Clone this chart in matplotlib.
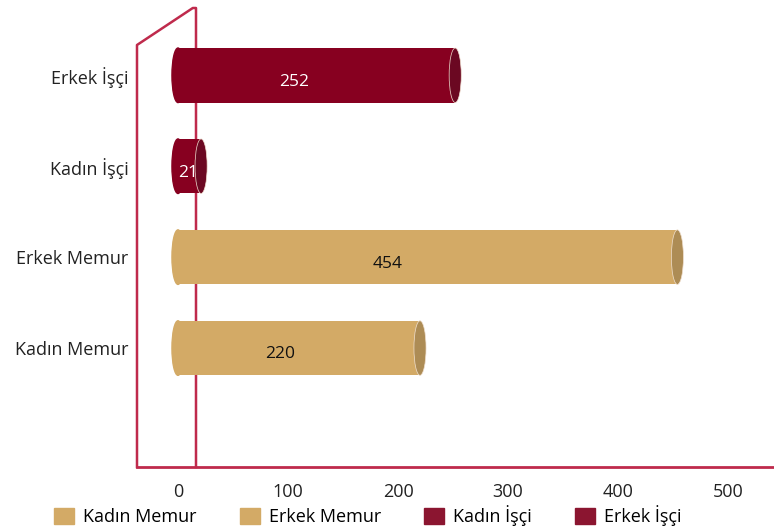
import matplotlib.pyplot as plt
from matplotlib.patches import Ellipse, Patch

plt.rcParams['font.family'] = ['Open Sans', 'DejaVu Sans']

# veriler (alttan üste)
kategoriler = ['Kadın Memur', 'Erkek Memur', 'Kadın İşçi', 'Erkek İşçi']
degerler = [220, 454, 21, 252]
renkler = ['#d3aa66', '#d3aa66', '#870020', '#870020']
uc_renkler = ['#ad8c55', '#ad8c55', '#6b0822', '#6b0822']
yazi_renk = ['#111111', '#111111', 'white', 'white']
x_ticks = [0, 100, 200, 300, 400, 500]
duvar = '#bf2a4c'

fig = plt.figure(figsize=(7.74, 5.32), dpi=100)
ax = fig.add_axes([137 / 774, 63 / 532, 637 / 774, 461 / 532])

px = 1.1  # piksel / birim
ax.set_xlim((137 - 178) / px, (774 - 178) / px)
ax.set_ylim(-1.33, 3.74)

h = 0.6
ew = 11
for i, (v, c, uc, tc) in enumerate(zip(degerler, renkler, uc_renkler, yazi_renk)):
    ax.barh(i, v, height=h, color=c, zorder=3)
    ax.add_patch(Ellipse((0, i), ew, h, color=c, zorder=3))
    ax.add_patch(Ellipse((v, i), ew, h, facecolor=uc, edgecolor='#f0e0d0',
                         lw=0.5, zorder=4))
    ax.text(v * 0.42, i - 0.07, str(v), color=tc, fontsize=12.5,
            ha='center', va='center', zorder=5)

# arka duvar ve zemin
tr = ax.transAxes
x0, x1 = 0, (196 - 137) / 637
y_ust = 1.0
y_sol = (469 - 45) / 461
y_alt = (469 - 467) / 461
ax.plot([x0, x0, x1 - 0.005, x1, x1], [y_alt, y_sol, y_ust, y_ust, y_alt],
        color=duvar, lw=1.8, transform=tr, zorder=2, clip_on=False)
ax.plot([0, 1], [y_alt, y_alt], color=duvar, lw=2, transform=tr, zorder=2,
        clip_on=False)

for s in ax.spines.values():
    s.set_visible(False)
ax.set_yticks(range(len(kategoriler)))
ax.set_yticklabels(kategoriler, fontsize=13, color='#222222')
ax.set_xticks(x_ticks)
ax.set_xticklabels([str(t) for t in x_ticks], fontsize=13, color='#222222')
ax.tick_params(axis='y', length=0, pad=6)
ax.tick_params(axis='x', length=0, pad=10)

handles = [Patch(color=renkler[0]), Patch(color=renkler[1]),
           Patch(color='#8b1530'), Patch(color='#8b1530')]
fig.legend(handles, kategoriler, ncol=4, loc='center',
           bbox_to_anchor=(368 / 774, 1 - 516 / 532), frameon=False,
           fontsize=13, handlelength=1.1, handleheight=1.0,
           columnspacing=2.4, handletextpad=0.5, borderpad=0)

fig.savefig('out.png', dpi=100)
